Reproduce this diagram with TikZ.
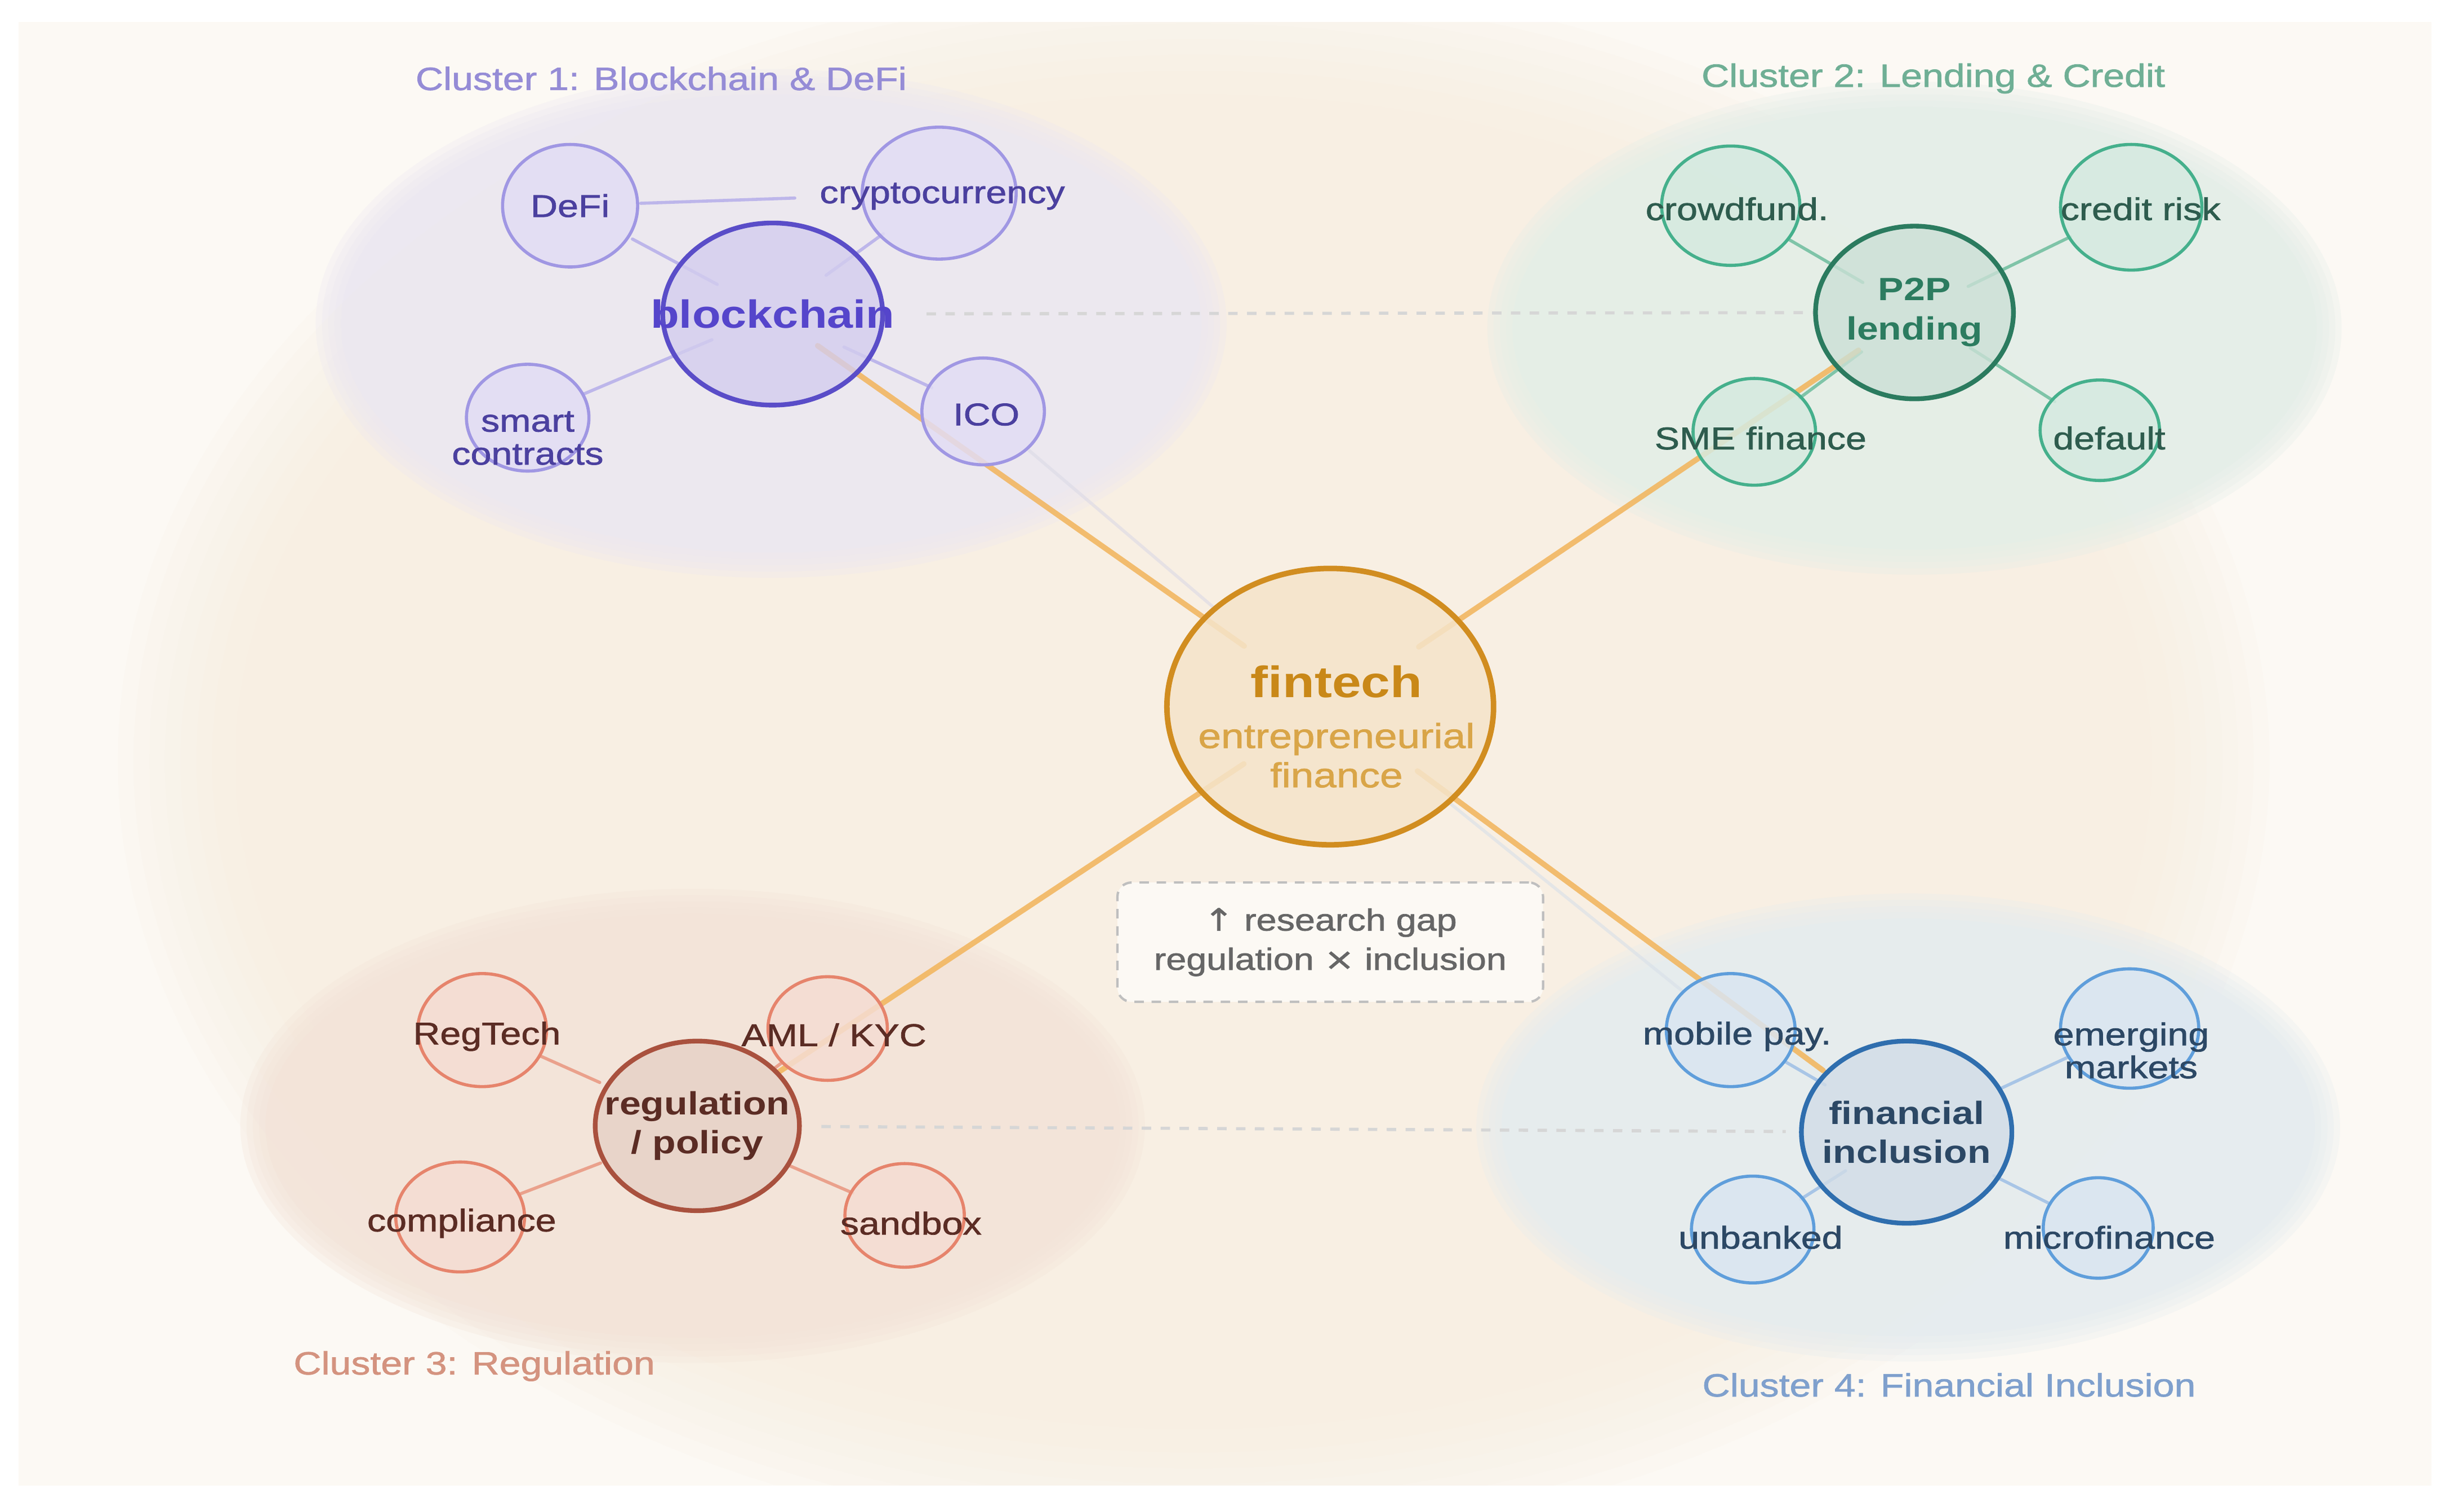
\documentclass[tikz,border=0pt]{standalone}
\usepackage{fontspec}
\setmainfont{Liberation Sans}[FakeStretch=1.19]
\newfontfamily\medf{Liberation Sans}[FakeStretch=1.19, AutoFakeBold=1.3]
\newfontfamily\symf{DejaVu Sans}[FakeStretch=1.19, AutoFakeBold=1.3]
\usetikzlibrary{shapes.geometric}
\pgfdeclarelayer{back}
\pgfdeclarelayer{lines}
\pgfsetlayers{back,lines,main}
\definecolor{panel}{HTML}{FCF9F4}
\definecolor{glow}{HTML}{F8EBDA}
\definecolor{c1bg}{HTML}{ECE8F1}
\definecolor{c1fill}{HTML}{E2DDF4}
\definecolor{c1stroke}{HTML}{A097E3}
\definecolor{c1text}{HTML}{4B409F}
\definecolor{c1hubfill}{HTML}{D3CDEE}
\definecolor{c1hubstroke}{HTML}{5A4DC8}
\definecolor{c1hubtext}{HTML}{5545CB}
\definecolor{c1label}{HTML}{958CD6}
\definecolor{c1edge}{HTML}{BDB6EA}
\definecolor{c2bg}{HTML}{E4EEE8}
\definecolor{c2fill}{HTML}{D5EAE0}
\definecolor{c2stroke}{HTML}{45B08C}
\definecolor{c2text}{HTML}{2E5C4E}
\definecolor{c2hubfill}{HTML}{CBE0D6}
\definecolor{c2hubstroke}{HTML}{2B7B5F}
\definecolor{c2hubtext}{HTML}{2C7C60}
\definecolor{c2label}{HTML}{6FAF95}
\definecolor{c2edge}{HTML}{7FC4A8}
\definecolor{c3bg}{HTML}{F3E4D9}
\definecolor{c3fill}{HTML}{F5DCD2}
\definecolor{c3stroke}{HTML}{E6846C}
\definecolor{c3text}{HTML}{5B2C24}
\definecolor{c3hubfill}{HTML}{E6D0C6}
\definecolor{c3hubstroke}{HTML}{A9513E}
\definecolor{c3hubtext}{HTML}{5B2C24}
\definecolor{c3label}{HTML}{D4937F}
\definecolor{c3edge}{HTML}{EAA18C}
\definecolor{c4bg}{HTML}{E5ECEF}
\definecolor{c4fill}{HTML}{DAE5F1}
\definecolor{c4stroke}{HTML}{5F9EDB}
\definecolor{c4text}{HTML}{2C4865}
\definecolor{c4hubfill}{HTML}{D1DCE7}
\definecolor{c4hubstroke}{HTML}{2F6EAE}
\definecolor{c4hubtext}{HTML}{2C4865}
\definecolor{c4label}{HTML}{7FA0CD}
\definecolor{c4edge}{HTML}{A8C5E6}
\definecolor{ftfill}{HTML}{F5E4CA}
\definecolor{ftstroke}{HTML}{D18D20}
\definecolor{fttext}{HTML}{C98818}
\definecolor{ftsub}{HTML}{D9A548}
\definecolor{orangeline}{HTML}{F2B45A}
\definecolor{gapgrey}{HTML}{666666}
\definecolor{dashgrey}{HTML}{D6D6D6}
\begin{document}
\begin{tikzpicture}[x=1pt,y=-1pt,
  leafbase/.style={ellipse, inner sep=0pt, line width=2pt, fill opacity=0.85},
  hubbase/.style={ellipse, inner sep=0pt, line width=3pt, fill opacity=0.8},
  ltxt/.style={font=\medf\bfseries\fontsize{20}{21}\selectfont, align=center, inner sep=0pt},
  htxt/.style={font=\bfseries\fontsize{20.5}{25}\selectfont, align=center, inner sep=0pt},
  ctitle/.style={font=\medf\bfseries\fontsize{20.5}{24}\selectfont, inner sep=0pt},
  leafA/.style={leafbase, draw=c1stroke, fill=c1fill},
  leafB/.style={leafbase, draw=c2stroke, fill=c2fill},
  leafC/.style={leafbase, draw=c3stroke, fill=c3fill},
  leafD/.style={leafbase, draw=c4stroke, fill=c4fill},
  spoke/.style={line width=2pt, line cap=round},
  trunk/.style={line width=3.5pt, draw=orangeline, opacity=0.85, line cap=round},
  faint/.style={line width=2pt, opacity=0.6},
  bridge/.style={line width=2pt, draw=dashgrey, dash pattern=on 6pt off 6pt}
]
\useasboundingbox (0,0) rectangle (1560,962.6);
\begin{pgfonlayer}{back}
\fill[white] (0,0) rectangle (1560,962.6);
\fill[panel] (12,14) rectangle (1548,946);
\begin{scope}
\clip (12,14) rectangle (1548,946);
\foreach \d in {30,20,10,0,-10,-20,-30,-45}
  \fill[glow, opacity=0.09] (760,485) ellipse [x radius=655+\d, y radius=470+\d];
\end{scope}
\foreach \d in {8,4,0,-4}{
  \fill[c1bg, opacity=0.3] (491,206) ellipse [x radius=282+\d, y radius=154+\d];
  \fill[c2bg, opacity=0.3] (1219,209) ellipse [x radius=264+\d, y radius=149+\d];
  \fill[c3bg, opacity=0.3] (441,717) ellipse [x radius=280+\d, y radius=143+\d];
  \fill[c4bg, opacity=0.3] (1215,718) ellipse [x radius=267+\d, y radius=141+\d];
}
\fill[c1bg, opacity=0.6] (491,206) ellipse [x radius=274, y radius=146];
\fill[c2bg, opacity=0.6] (1219,209) ellipse [x radius=256, y radius=141];
\fill[c3bg, opacity=0.6] (441,717) ellipse [x radius=272, y radius=135];
\fill[c4bg, opacity=0.6] (1215,718) ellipse [x radius=259, y radius=133];
\end{pgfonlayer}

% cluster titles
\node[ctitle, text=c1label] (t1) at (421,50) {Cluster 1: Blockchain \& DeFi};
\node[ctitle, text=c2label] (t2) at (1231,50) {Cluster 2: Lending \& Credit};
\node[ctitle, text=c3label] (t3) at (302,870) {Cluster 3: Regulation};
\node[ctitle, text=c4label] (t4) at (1241,882) {Cluster 4: Financial Inclusion};

% centre
\node[ellipse, inner sep=0pt, line width=3.5pt, draw=ftstroke, fill=ftfill, fill opacity=0.85,
  minimum width=208pt, minimum height=176pt] (fin) at (847,450) {};
\node[font=\bfseries\fontsize{28}{30}\selectfont, text=fttext, inner sep=0pt] (fin-t) at (851,434) {fintech};
\node[font=\medf\bfseries\fontsize{22}{25}\selectfont, text=ftsub, align=center, inner sep=0pt] (fin-s) at (851,481) {entrepreneurial\\finance};

% research gap box
\node[draw=black!25, line width=1.5pt, dash pattern=on 6pt off 5pt, rounded corners=9pt,
  fill=panel, minimum width=271pt, minimum height=76pt, inner sep=0pt,
  font=\medf\bfseries\fontsize{19.5}{25}\selectfont, text=gapgrey, align=center] (gap) at (847,600)
  {{\symf\bfseries ↑} research gap\\regulation {\symf\bfseries ×} inclusion};

% hubs
\node[hubbase, draw=c1hubstroke, fill=c1hubfill, minimum width=140pt, minimum height=116pt,
  label={[inner sep=0pt, font=\bfseries\fontsize{25}{27}\selectfont, text=c1hubtext]center:blockchain}] (bc) at (492,200) {};
\node[hubbase, draw=c2hubstroke, fill=c2hubfill, minimum width=126pt, minimum height=110pt,
  label={[htxt, text=c2hubtext]center:P2P\\lending}] (p2p) at (1219,199) {};
\node[hubbase, draw=c3hubstroke, fill=c3hubfill, minimum width=130pt, minimum height=108pt,
  label={[htxt, text=c3hubtext]center:regulation\\/ policy}] (reg) at (444,717) {};
\node[hubbase, draw=c4hubstroke, fill=c4hubfill, minimum width=134pt, minimum height=116pt,
  label={[htxt, text=c4hubtext]center:financial\\inclusion}] (fi) at (1214,721) {};

% cluster 1 leaves
\node[leafA, minimum width=86pt, minimum height=78pt, label={[ltxt,text=c1text]center:DeFi}] (defi) at (363,131) {};
\node[leafA, minimum width=98pt, minimum height=84pt, label={[ltxt,text=c1text,xshift=2pt,yshift=-2pt]center:cryptocurrency}] (crypto) at (598,123) {};
\node[leafA, minimum width=78pt, minimum height=68pt, label={[ltxt,text=c1text,yshift=-13pt]center:smart\\contracts}] (smart) at (336,266) {};
\node[leafA, minimum width=78pt, minimum height=68pt, label={[ltxt,text=c1text,xshift=2pt,yshift=-2pt]center:ICO}] (ico) at (626,262) {};
% cluster 2 leaves
\node[leafB, minimum width=88pt, minimum height=76pt, label={[ltxt,text=c2text,xshift=4pt,yshift=-2pt]center:crowdfund.}] (crowd) at (1102,131) {};
\node[leafB, minimum width=90pt, minimum height=80pt, label={[ltxt,text=c2text,xshift=6pt,yshift=-1pt]center:credit risk}] (credit) at (1357,132) {};
\node[leafB, minimum width=78pt, minimum height=68pt, label={[ltxt,text=c2text,xshift=4pt,yshift=-4pt]center:SME finance}] (sme) at (1117,275) {};
\node[leafB, minimum width=76pt, minimum height=64pt, label={[ltxt,text=c2text,xshift=6pt,yshift=-5pt]center:default}] (dflt) at (1337,274) {};
% cluster 3 leaves
\node[leafC, minimum width=82pt, minimum height=72pt, label={[ltxt,text=c3text,xshift=3pt,yshift=-4pt]center:RegTech}] (regtech) at (307,656) {};
\node[leafC, minimum width=76pt, minimum height=66pt, label={[ltxt,text=c3text,xshift=4pt,yshift=-4pt]center:AML / KYC}] (aml) at (527,655) {};
\node[leafC, minimum width=82pt, minimum height=70pt, label={[ltxt,text=c3text,xshift=1pt,yshift=-4pt]center:compliance}] (compl) at (293,775) {};
\node[leafC, minimum width=76pt, minimum height=66pt, label={[ltxt,text=c3text,xshift=4pt,yshift=-5pt]center:sandbox}] (sandbox) at (576,774) {};
% cluster 4 leaves
\node[leafD, minimum width=82pt, minimum height=72pt, label={[ltxt,text=c4text,xshift=4pt,yshift=-4pt]center:mobile pay.}] (mobile) at (1102,656) {};
\node[leafD, minimum width=88pt, minimum height=76pt, label={[ltxt,text=c4text,xshift=1pt,yshift=-14pt]center:emerging\\markets}] (emerg) at (1356,655) {};
\node[leafD, minimum width=78pt, minimum height=68pt, label={[ltxt,text=c4text,xshift=5pt,yshift=-5pt]center:unbanked}] (unbank) at (1116,783) {};
\node[leafD, minimum width=70pt, minimum height=64pt, label={[ltxt,text=c4text,xshift=7pt,yshift=-6pt]center:microfinance}] (micro) at (1336,782) {};

\begin{pgfonlayer}{lines}
% dashed bridges
\draw[bridge, shorten <=98pt, shorten >=64pt] (bc.center) -- (p2p.center);
\draw[bridge, shorten <=79pt, shorten >=77pt] (reg.center) -- (fi.center);
% cluster 1 spokes
\draw[spoke, draw=c1edge, shorten <=45pt, shorten >=40pt] (defi.center) -- (bc.center);
\draw[spoke, draw=c1edge, shorten <=44pt, shorten >=42pt] (crypto.center) -- (bc.center);
\draw[spoke, draw=c1edge, shorten <=38pt, shorten >=42pt] (smart.center) -- (bc.center);
\draw[spoke, draw=c1edge, shorten <=36pt, shorten >=50pt] (ico.center) -- (bc.center);
\draw[spoke, draw=c1edge, shorten <=45pt, shorten >=92pt] (defi.center) -- (crypto.center);
% cluster 2 spokes
\draw[spoke, draw=c2edge, shorten <=42pt, shorten >=38pt] (crowd.center) -- (p2p.center);
\draw[spoke, draw=c2edge, shorten <=43pt, shorten >=38pt] (credit.center) -- (p2p.center);
\draw[spoke, draw=c2edge, shorten <=36pt, shorten >=42pt] (sme.center) -- (p2p.center);
\draw[spoke, draw=c2edge, shorten <=34pt, shorten >=42pt] (dflt.center) -- (p2p.center);
% cluster 3 spokes
\draw[spoke, draw=c3edge, shorten <=40pt, shorten >=68pt] (regtech.center) -- (reg.center);
\draw[spoke, draw=c3edge, shorten <=36pt, shorten >=60pt] (aml.center) -- (reg.center);
\draw[spoke, draw=c3edge, shorten <=40pt, shorten >=66pt] (compl.center) -- (reg.center);
\draw[spoke, draw=c3edge, shorten <=36pt, shorten >=64pt] (sandbox.center) -- (reg.center);
% cluster 4 spokes
\draw[spoke, draw=c4edge, shorten <=40pt, shorten >=60pt] (mobile.center) -- (fi.center);
\draw[spoke, draw=c4edge, shorten <=42pt, shorten >=66pt] (emerg.center) -- (fi.center);
\draw[spoke, draw=c4edge, shorten <=36pt, shorten >=46pt] (unbank.center) -- (fi.center);
\draw[spoke, draw=c4edge, shorten <=34pt, shorten >=62pt] (micro.center) -- (fi.center);
% faint cross links
\draw[faint, draw=c1edge!60!gray!40, shorten <=38pt, shorten >=97pt] (ico.center) -- (fin.center);
\draw[faint, draw=c4edge!70!gray!40, shorten <=38pt, shorten >=95pt] (mobile.center) -- (fin.center);
% trunks
\draw[trunk, shorten <=67pt, shorten >=35pt] (fin.center) -- (bc.center);
\draw[trunk, shorten <=68pt, shorten >=43pt] (fin.center) -- (p2p.center);
\draw[trunk, shorten <=66pt, shorten >=62pt] (fin.center) -- (reg.center);
\draw[trunk, shorten <=69pt, shorten >=66pt] (fin.center) -- (fi.center);
\end{pgfonlayer}
\end{tikzpicture}
\end{document}
